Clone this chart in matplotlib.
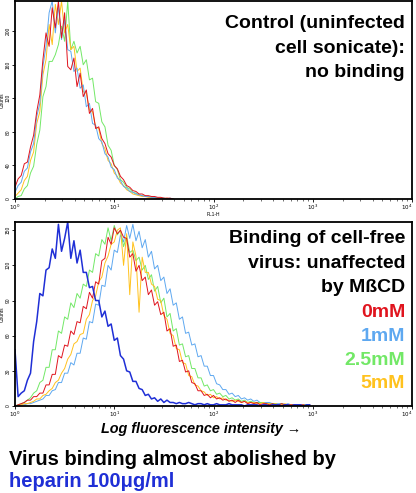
import numpy as np
import matplotlib
matplotlib.use("Agg")
import matplotlib.pyplot as plt

# Flow cytometry histograms, counts per channel (32 channels per decade, starting at 10^0)
# Top panel: control (uninfected cell sonicate)
top_0mM = [14, 24, 28, 42, 44, 62, 76, 104, 124, 166, 198, 182, 228, 204, 236, 192, 222, 158, 154, 168,
           134, 150, 122, 130, 102, 108, 84, 86, 72, 66, 54, 50, 40, 36, 27, 23, 16, 14, 10, 9,
           6, 6, 4, 4, 3, 3, 2, 2, 1, 1, 1, 0]
top_1mM = [8, 16, 20, 33, 37, 56, 66, 98, 114, 158, 182, 222, 236, 198, 230, 190, 214, 178, 176, 152,
           156, 132, 136, 110, 114, 90, 88, 72, 68, 54, 50, 38, 35, 25, 22, 15, 13, 9, 8, 6,
           5, 4, 3, 3, 2, 2, 1, 1, 1, 0, 1, 0]
top_2_5mM = [0, 3, 4, 12, 16, 31, 39, 65, 82, 122, 134, 164, 164, 172, 184, 206, 188, 236, 178, 188,
             174, 182, 160, 166, 142, 144, 116, 114, 92, 86, 64, 58, 40, 35, 23, 20, 14, 12, 8, 7,
             5, 4, 3, 3, 2, 2, 1, 1, 1, 0, 0, 0]
top_5mM = [3, 7, 11, 22, 27, 46, 56, 90, 104, 148, 166, 208, 184, 232, 208, 236, 198, 208, 178, 182,
           152, 156, 128, 126, 106, 104, 86, 84, 66, 60, 46, 42, 31, 27, 19, 16, 11, 9, 6, 5,
           4, 3, 3, 2, 2, 1, 1, 1, 0, 1, 0, 0]

# Bottom panel: cell-free virus with MbCD, plus heparin
bot_0mM = [0, 1, 2, 3, 5, 5, 8, 8, 11, 11, 18, 18, 27, 27, 43, 41, 52, 51, 64, 61,
           72, 71, 85, 83, 97, 92, 106, 104, 124, 126, 144, 138, 152, 147, 150, 144, 143, 127, 130, 115,
           120, 107, 110, 95, 99, 86, 89, 78, 80, 64, 66, 51, 52, 38, 39, 29, 30, 20, 19, 13,
           13, 9, 10, 7, 9, 6, 7, 5, 6, 4, 5, 3, 5, 3, 4, 2, 3, 2, 3, 1,
           2, 2, 1, 2, 1, 1, 2, 1, 1, 1, 1, 0, 1, 1, 0, 1]
bot_1mM = [0, 0, 1, 1, 2, 2, 3, 4, 5, 6, 9, 9, 13, 14, 20, 20, 28, 28, 37, 35,
           45, 45, 58, 57, 72, 71, 87, 86, 103, 102, 120, 116, 133, 131, 146, 140, 154, 143, 155, 141,
           149, 135, 142, 127, 132, 117, 120, 107, 110, 96, 100, 86, 88, 74, 76, 62, 63, 52, 53, 42,
           43, 34, 34, 26, 26, 19, 18, 14, 14, 10, 11, 8, 9, 6, 7, 5, 6, 4, 5, 3,
           3, 3, 3, 2, 2, 2, 2, 1, 2, 1, 1, 1, 1, 0, 1, 0]
bot_2_5mM = [0, 1, 2, 3, 5, 7, 11, 13, 20, 22, 33, 33, 48, 48, 64, 62, 76, 74, 88, 84,
             96, 92, 104, 102, 116, 114, 130, 128, 142, 138, 152, 141, 154, 146, 150, 136, 145, 131, 133, 124,
             127, 116, 120, 108, 112, 98, 102, 88, 92, 76, 79, 64, 66, 52, 53, 42, 43, 32, 32, 24,
             24, 17, 18, 13, 14, 10, 11, 8, 9, 6, 7, 5, 6, 4, 5, 3, 4, 3, 3, 3,
             3, 2, 2, 2, 2, 1, 2, 1, 1, 1, 1, 1, 0, 1, 1, 0]
bot_5mM = [0, 0, 1, 2, 2, 3, 4, 6, 6, 9, 10, 13, 15, 20, 22, 28, 32, 40, 44, 53,
           55, 61, 62, 74, 78, 90, 94, 106, 110, 122, 128, 138, 140, 150, 152, 120, 147, 95, 140, 128,
           80, 127, 114, 114, 104, 102, 91, 90, 77, 74, 62, 60, 49, 48, 37, 36, 26, 25, 18, 17,
           13, 12, 9, 10, 7, 8, 6, 7, 5, 5, 4, 5, 4, 3, 4, 3, 3, 3, 2, 2,
           3, 2, 2, 1, 2, 1, 1, 2, 1, 1, 1, 1, 0, 1, 0, 1]
bot_heparin = [48, 8, 11, 13, 22, 28, 55, 72, 96, 94, 116, 118, 134, 126, 155, 132, 143, 157, 126, 141,
               122, 133, 114, 114, 101, 102, 90, 90, 76, 81, 68, 70, 56, 58, 43, 40, 30, 29, 21, 21,
               15, 14, 9, 10, 6, 7, 4, 6, 3, 5, 3, 3, 2, 3, 2, 2, 3, 2, 1, 2,
               2, 1, 2, 1, 1, 2, 1, 1, 1, 2, 1, 1, 1, 1, 0, 1, 1, 1, 1, 0,
               1, 1, 0, 1, 1, 1, 0, 1, 1, 0, 1, 1, 1, 0, 1, 1]

conc_labels = ["0mM", "1mM", "2.5mM", "5mM"]
conc_colors = ["#e0141e", "#5ea8f0", "#72e866", "#ffc21e"]
heparin_color = "#1f2fd6"

plt.rcParams['font.family'] = ['Liberation Sans', 'DejaVu Sans']

W, H = 416, 493
fig = plt.figure(figsize=(W / 100, H / 100), dpi=100)


def px_box(left, top, right, bottom):
    return [left / W, 1 - bottom / H, (right - left) / W, (bottom - top) / H]


def channels(counts):
    return 10 ** (np.arange(len(counts)) / 32)


def style_axes(ax, ymax, yticks):
    ax.set_xscale("log")
    ax.set_xlim(1, 1e4)
    ax.set_ylim(0, ymax)
    ax.set_yticks(yticks)
    ax.set_yticklabels([str(v) for v in yticks], rotation=90, va="center", fontsize=3.5)
    ax.set_xticks([1, 10, 100, 1000, 10000])
    labels = ax.set_xticklabels([r"$10^{%d}$" % i for i in range(5)], fontsize=4)
    labels[-1].set_horizontalalignment("right")
    ax.tick_params(axis="both", which="major", length=2, width=0.6, pad=1)
    ax.tick_params(axis="x", which="minor", length=1.2, width=0.4)
    for sp in ax.spines.values():
        sp.set_linewidth(1.3)
    ax.set_ylabel("Counts", fontsize=3.5, labelpad=1)


# Top panel
ax0 = fig.add_axes(px_box(15, 1, 412, 199))
for counts, col in zip([top_2_5mM, top_5mM, top_1mM, top_0mM], [conc_colors[2], conc_colors[3], conc_colors[1], conc_colors[0]]):
    ax0.plot(channels(counts), counts, color=col, lw=0.7)
style_axes(ax0, 236, [0, 40, 80, 120, 160, 200])
ax0.set_xlabel("FL1-H", fontsize=3.5, labelpad=0)

# Bottom panel
ax1 = fig.add_axes(px_box(15, 222, 412, 406))
for counts, col in zip([bot_1mM, bot_2_5mM, bot_5mM, bot_0mM], [conc_colors[1], conc_colors[2], conc_colors[3], conc_colors[0]]):
    ax1.plot(channels(counts), counts, color=col, lw=0.7)
ax1.plot(channels(bot_heparin), bot_heparin, color=heparin_color, lw=1.1)
style_axes(ax1, 157, [0, 30, 60, 90, 120, 150])

fs = 14
# Panel annotations (right aligned, baselines in pixels)
for txt, yb in zip(["Control (uninfected", "cell sonicate):", "no binding"], [28, 53, 77]):
    fig.text(405 / W, 1 - yb / H, txt, ha="right", va="baseline", fontsize=fs, fontweight="bold")

for txt, yb in zip(["Binding of cell-free", "virus: unaffected", "by MßCD"], [243, 268, 292]):
    fig.text(405 / W, 1 - yb / H, txt, ha="right", va="baseline", fontsize=fs, fontweight="bold")
for txt, col, yb in zip(conc_labels, conc_colors, [317, 341, 365, 388]):
    fig.text(405 / W, 1 - yb / H, txt, ha="right", va="baseline", fontsize=fs, fontweight="bold", color=col)

fig.text(201 / W, 1 - 433 / H, "Log fluorescence intensity →", ha="center", va="baseline",
         fontsize=10.4, fontweight="bold", style="italic")
fig.text(9 / W, 1 - 465 / H, "Virus binding almost abolished by", ha="left", va="baseline",
         fontsize=14.5, fontweight="bold")
fig.text(9 / W, 1 - 487 / H, "heparin 100μg/ml", ha="left", va="baseline",
         fontsize=14.5, fontweight="bold", color=heparin_color)

fig.savefig("out.png", dpi=100)
